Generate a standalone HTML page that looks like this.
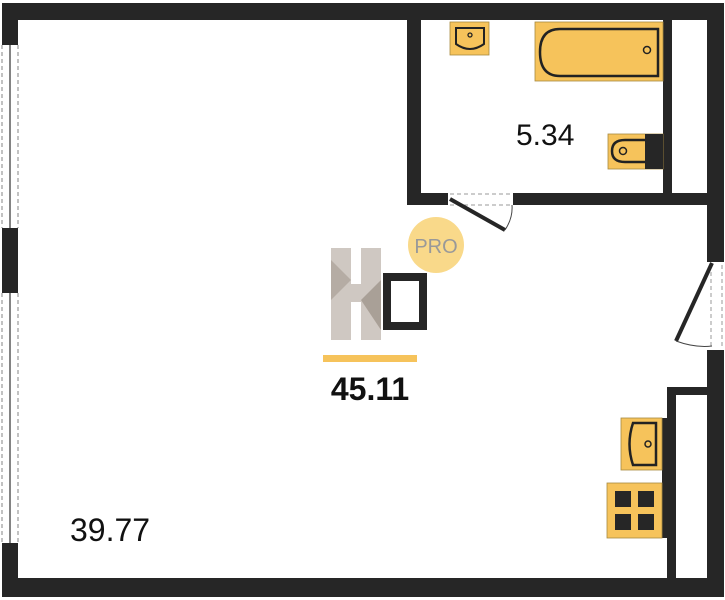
<!DOCTYPE html>
<html><head><style>
body{margin:0;background:#fff;}
svg{display:block}
text{font-family:"Liberation Sans",sans-serif}
</style></head><body>
<svg width="725" height="600" viewBox="0 0 725 600">
<rect width="725" height="600" fill="#fff"/>
<g fill="#262626">
<rect x="2" y="3" width="722" height="17"/>
<rect x="2" y="578" width="722" height="19"/>
<rect x="2" y="3" width="16" height="42"/>
<rect x="2" y="228" width="16" height="65"/>
<rect x="2" y="543" width="16" height="54"/>
<rect x="707" y="3" width="17" height="259"/>
<rect x="707" y="350" width="17" height="247"/>
<rect x="407" y="3" width="14" height="202"/>
<rect x="407" y="193" width="41" height="12"/>
<rect x="513" y="193" width="194" height="12"/>
<rect x="663" y="20" width="9" height="173"/>
<rect x="667" y="387" width="9" height="191"/>
<rect x="667" y="387" width="40" height="8"/>
</g>
<g stroke="#999" stroke-dasharray="4,3" fill="none" stroke-width="1.2">
<line x1="2" y1="45" x2="2" y2="228"/><line x1="18" y1="45" x2="18" y2="228"/>
<line x1="2" y1="293" x2="2" y2="543"/><line x1="18" y1="293" x2="18" y2="543"/>
</g>
<g stroke="#333" stroke-width="1.2"><line x1="10" y1="45" x2="10" y2="228"/><line x1="10" y1="293" x2="10" y2="543"/></g>
<g stroke="#999" stroke-dasharray="4,3" fill="none"><line x1="450" y1="194" x2="512" y2="194"/><line x1="450" y1="205" x2="512" y2="205"/>
<line x1="711" y1="265" x2="711" y2="346"/><line x1="722" y1="265" x2="722" y2="346"/></g>
<line x1="450" y1="199" x2="505" y2="230" stroke="#262626" stroke-width="4"/>
<path d="M505 230 Q513 218 512 205" stroke="#444" fill="none"/>
<line x1="712" y1="263" x2="676" y2="341" stroke="#262626" stroke-width="4"/>
<path d="M676 341 Q695 348 712 346" stroke="#444" fill="none"/>
<rect x="450" y="22" width="39" height="33" fill="#f6c35b" stroke="#a88a40" stroke-width="0.8"/>
<path d="M456 28 H484 V44 Q470 54 456 44 Z" fill="none" stroke="#222" stroke-width="2"/>
<circle cx="470" cy="35" r="2" fill="none" stroke="#222" stroke-width="1.3"/>
<rect x="535" y="22" width="128" height="59" fill="#f6c35b" stroke="#a88a40" stroke-width="0.8"/>
<path d="M560 29 H658 V76 H560 Q540 76 540 52 Q540 29 560 29 Z" fill="none" stroke="#222" stroke-width="2.5"/>
<circle cx="647" cy="50" r="3.5" fill="none" stroke="#222" stroke-width="1.5"/>
<rect x="608" y="134" width="55" height="35" fill="#f6c35b" stroke="#a88a40" stroke-width="0.8"/>
<rect x="645" y="134" width="18" height="35" fill="#262626"/>
<path d="M645 140 H625 Q612 140 612 151 Q612 162 625 162 H645" fill="none" stroke="#222" stroke-width="2.5"/>
<circle cx="623" cy="151" r="3.5" fill="none" stroke="#222" stroke-width="1.5"/>
<rect x="662" y="418" width="5" height="120" fill="#262626"/>
<rect x="621" y="418" width="41" height="52" fill="#f6c35b" stroke="#a88a40" stroke-width="0.8"/>
<path d="M633 423 H656 V465 H633 Q626 444 633 423 Z" fill="none" stroke="#222" stroke-width="2.5"/>
<circle cx="648" cy="444" r="3" fill="none" stroke="#222" stroke-width="1.5"/>
<rect x="607" y="483" width="55" height="55" fill="#f6c35b" stroke="#a88a40" stroke-width="0.8"/>
<g fill="#262626"><rect x="615" y="491" width="16" height="16"/><rect x="638" y="491" width="16" height="16"/><rect x="615" y="514" width="16" height="16"/><rect x="638" y="514" width="16" height="16"/></g>
<circle cx="436" cy="245" r="28" fill="#f9d98a"/>
<text x="436" y="253" font-size="20" fill="#999" text-anchor="middle">PRO</text>
<g fill="#cfc8c2"><rect x="331" y="248" width="20" height="92"/><rect x="361" y="248" width="20" height="92"/><rect x="351" y="284" width="10" height="18"/></g>
<polygon points="331,260 351,280 331,300" fill="#b5aca4"/>
<polygon points="361,300 381,280 381,330" fill="#a9a097"/>
<rect x="387" y="277" width="36" height="49" fill="none" stroke="#262626" stroke-width="8"/>
<rect x="323" y="355" width="94" height="7" fill="#f6c35b"/>
<text x="370" y="400" font-size="32" font-weight="bold" fill="#111" text-anchor="middle">45.11</text>
<text x="516" y="145" font-size="30" fill="#111">5.34</text>
<text x="70" y="541" font-size="32" fill="#111">39.77</text>
</svg>
</body></html>
